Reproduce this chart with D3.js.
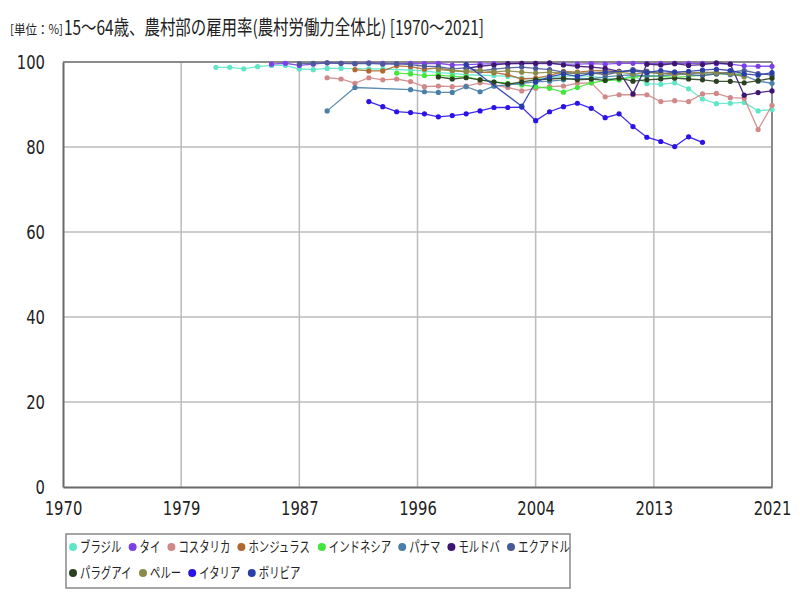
<!DOCTYPE html>
<html><head><meta charset="utf-8">
<script src="https://cdn.jsdelivr.net/npm/d3@7"></script>
<style>
body{margin:0;background:#fff;}
svg{display:block;}
</style></head>
<body>
<svg id="chart" width="800" height="600"></svg>
<script>
// ---- data ----
const seriesNames = ["ブラジル","タイ","コスタリカ","ホンジュラス","インドネシア","パナマ","モルドバ","エクアドル","パラグアイ","ペルー","イタリア","ボリビア"];
const seriesColors = ["#5fe6c6","#7d40e6","#d08888","#b06a30","#42e63a","#4a80a8","#3c1672","#4a5a98","#2a4020","#8a8a48","#2a12e8","#2a3ea8"];
const seriesStart = [1981,1985,1989,1991,1994,1989,1999,1987,1997,1997,1992,1999];

const brazil = [98.75,98.75,98.4,98.9,99.2,99.2,98.35,98.2,98.5,98.5,null,98.4,98.35,null,98.1,97.9,97.5,97.3,97.0,null,96.8,96.6,96.2,96.0,96.3,96.6,96.8,96.6,96.2,95.8,96.9,94.9,94.75,95.1,93.7,91.3,90.2,90.3,90.5,88.5,88.8];
const thailand = [99.5,99.7,99.2,99.5,99.8,99.7,99.6,99.8,99.7,99.5,99.7,99.6,99.7,99.3,99.4,99.5,99.6,99.6,99.7,99.6,99.6,99.5,99.5,99.6,99.5,99.7,99.7,99.6,99.7,99.7,99.7,99.7,99.6,99.5,99.1,99.0,99.0];
const costaRica = [96.3,96.0,95.0,96.3,95.8,96.0,95.4,94.2,94.35,94.2,94.35,95.1,94.6,94.0,93.2,93.8,94.2,94.35,95.0,95.1,91.8,92.3,92.3,92.3,90.7,90.9,90.7,92.5,92.6,91.6,91.5,84.1,89.8];
const honduras = [98.2,97.9,97.9,99.1,98.9,98.3,98.6,98.0,97.7,null,97.5,97.0,96.0,96.2,96.8,97.8,97.6,97.9,98.0,97.6,98.1,97.8,97.4,97.2,97.5,97.4,97.6,97.2,97.0];
const indonesia = [97.4,97.2,96.8,96.9,96.6,96.5,95.8,95.3,95.0,94.6,94.2,93.8,92.9,94.0,95.1,95.6,95.8,96.5,96.7,96.6,96.4,96.6,96.9,97.2,97.2,97.0];
const panama = [88.5,null,94.0,null,null,null,93.5,93.0,92.85,92.85,94.2,93.0,94.3,94.6,95.0,95.3,95.5,95.8,96.2,96.0,96.5,96.8,97.0,96.7,96.8,97.0,97.2,97.5,97.4,97.0,96.8,95.5,95.0];
const moldova = [98.5,99.0,99.3,99.6,99.7,99.7,99.8,99.3,99.0,98.8,98.5,97.8,92.5,99.5,99.3,99.6,99.2,99.4,99.8,99.5,92.2,92.8,93.2];
const ecuador = [99.6,99.7,99.8,99.7,99.6,99.7,99.5,99.6,99.4,99.0,98.9,98.4,98.6,97.9,98.3,98.6,98.8,98.5,98.2,97.6,97.2,97.5,97.0,97.6,98.2,97.8,97.2,97.6,97.0,96.8,97.2,97.6,98.0,97.3,96.9];
const paraguay = [96.5,96.0,96.3,95.8,95.3,94.8,95.3,95.8,96.0,96.2,95.8,96.0,95.7,96.2,95.5,95.8,96.0,96.2,96.0,95.8,95.45,95.45,95.1,95.6,96.2];
const peru = [98.2,98.0,97.8,98.1,97.7,97.9,97.6,97.4,97.6,97.3,97.5,97.2,97.4,97.6,97.2,97.5,97.4,97.0,97.3,97.6,97.5,97.3,96.5];
const italy = [90.7,89.5,88.3,88.1,87.8,87.1,87.4,87.8,88.5,89.3,89.3,89.4,86.2,88.3,89.5,90.3,89.1,86.9,87.8,84.8,82.3,81.3,80.1,82.4,81.1];
const bolivia = [99.4,null,null,null,89.6,95.3,96.5,97.2,96.6,97.3,97.6,null,97.9,97.5,98.0,97.6,97.8,98.1,98.3,98.0,97.2,96.9,97.5];

const seriesValues = [brazil,thailand,costaRica,honduras,indonesia,panama,moldova,ecuador,paraguay,peru,italy,bolivia];
const xTickYears = [1970,1978.5,1987,1995.5,2004,2012.5,2021];
const xTickLabels = ["1970","1979","1987","1996","2004","2013","2021"];
const yTicks = [0,20,40,60,80,100];

// ---- layout ----
const svg = d3.select("#chart");
const L = 63, R = 772, T = 62, B = 487;
const x = d3.scaleLinear().domain([1970,2021]).range([L,R]);
const y = d3.scaleLinear().domain([0,100]).range([B,T]);
const numFont = "'Liberation Sans Narrow','DejaVu Sans Condensed','Liberation Sans',sans-serif";
const jpFont = "'Noto Sans CJK JP','Noto Sans',sans-serif";

// title
svg.append("text").attr("x",10).attr("y",34).attr("font-family",jpFont).attr("font-size",13)
  .attr("textLength",53).attr("lengthAdjust","spacingAndGlyphs").attr("fill","#222").text("[単位：%]");
svg.append("text").attr("x",64).attr("y",35).attr("font-family",jpFont).attr("font-size",20)
  .attr("textLength",420).attr("lengthAdjust","spacingAndGlyphs").attr("fill","#222")
  .text("15～64歳、農村部の雇用率(農村労働力全体比) [1970～2021]");

// gridlines
svg.append("g").selectAll("line.vg").data(xTickYears.slice(1,-1)).join("line")
  .attr("x1",d=>x(d)).attr("x2",d=>x(d)).attr("y1",T).attr("y2",B)
  .attr("stroke","#bbbbbb").attr("stroke-width",1.5);
svg.append("g").selectAll("line.hg").data(yTicks.slice(1,-1)).join("line")
  .attr("x1",L).attr("x2",R).attr("y1",d=>y(d)).attr("y2",d=>y(d))
  .attr("stroke","#bbbbbb").attr("stroke-width",1.5);

// frame
svg.append("line").attr("x1",L).attr("x2",R).attr("y1",T).attr("y2",T).attr("stroke","#8a8a8a").attr("stroke-width",2);
svg.append("line").attr("x1",R).attr("x2",R).attr("y1",T).attr("y2",B).attr("stroke","#8a8a8a").attr("stroke-width",2);

// axes
const xAxis = d3.axisBottom(x).tickValues(xTickYears).tickFormat((d,i)=>xTickLabels[i]).tickSize(0).tickPadding(14);
const gx = svg.append("g").attr("transform",`translate(0,${B})`).call(xAxis);
gx.select(".domain").attr("stroke","#6a6a6a").attr("stroke-width",2);
gx.selectAll("text").attr("font-family",numFont).attr("font-size",20).attr("fill","#222")
  .attr("textLength",function(){return this.textContent.length*9.4;}).attr("lengthAdjust","spacingAndGlyphs");

const yAxis = d3.axisLeft(y).tickValues(yTicks).tickSize(0).tickPadding(18);
const gy = svg.append("g").attr("transform",`translate(${L},0)`).call(yAxis);
gy.select(".domain").attr("stroke","#6a6a6a").attr("stroke-width",2);
gy.selectAll("text").attr("font-family",numFont).attr("font-size",20).attr("fill","#222")
  .attr("textLength",function(){return this.textContent.length*9.4;}).attr("lengthAdjust","spacingAndGlyphs");

// series
const line = d3.line().x(d=>x(d.year)).y(d=>y(d.value));
seriesValues.forEach((vals,si)=>{
  const pts = vals.map((v,i)=>({year:seriesStart[si]+i,value:v})).filter(d=>d.value!==null);
  const g = svg.append("g");
  g.append("path").datum(pts).attr("d",line).attr("fill","none")
    .attr("stroke",seriesColors[si]).attr("stroke-width",1.3).attr("stroke-opacity",0.9);
  g.selectAll("circle").data(pts).join("circle")
    .attr("cx",d=>x(d.year)).attr("cy",d=>y(d.value)).attr("r",2.6)
    .attr("fill",seriesColors[si]);
});

// legend
const lg = svg.append("g");
lg.append("rect").attr("x",66).attr("y",534).attr("width",504).attr("height",54)
  .attr("fill","#fff").attr("stroke","#888").attr("stroke-width",1.5);
const rows = [[0,1,2,3,4,5,6,7],[8,9,10,11]];
const rowY = [547,573];
const legFont = 14.5;
const charW = 10.4;
const sx = charW/legFont;
rows.forEach((row,ri)=>{
  let cx = 73;
  row.forEach(si=>{
    const name = seriesNames[si];
    const w = name.length*charW;
    lg.append("circle").attr("cx",cx).attr("cy",rowY[ri]).attr("r",4).attr("fill",seriesColors[si]);
    lg.append("g").attr("transform",`translate(${cx+7},${rowY[ri]+5}) scale(${sx},1)`)
      .append("text").attr("x",0).attr("y",0).attr("font-family",jpFont).attr("font-size",legFont)
      .attr("fill","#222").text(name);
    cx += 7 + w + 11;
  });
});
</script>
</body></html>
